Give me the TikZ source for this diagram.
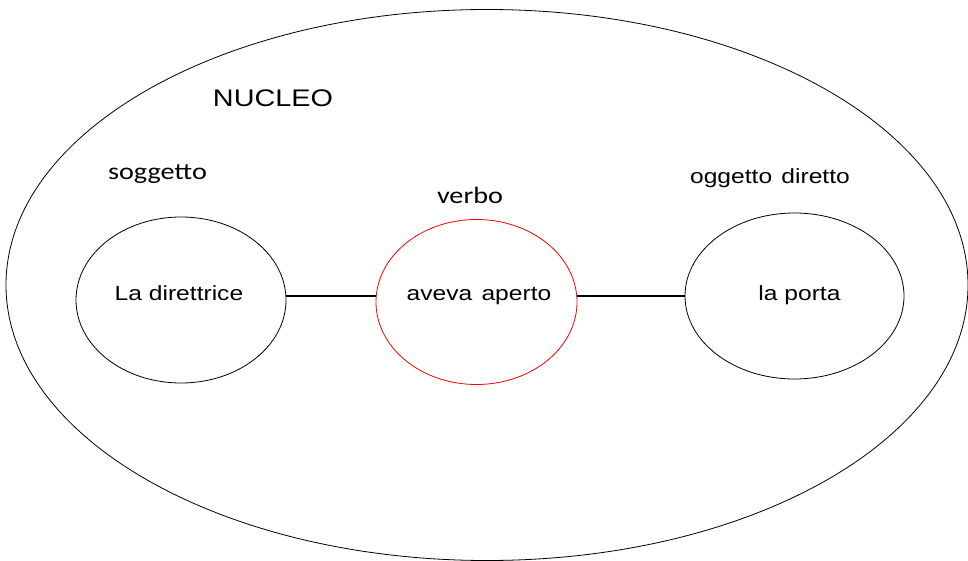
\documentclass[tikz,border=0pt]{standalone}
\usepackage{fontspec}
\setmainfont{Liberation Sans}[FakeStretch=1.2]
\newfontfamily\calib{Carlito}[FakeStretch=1.2]
\usetikzlibrary{shapes.geometric}
\tikzset{
  bubble/.style={draw=black, ellipse, line width=0.8pt, inner sep=0pt, outer sep=0pt},
  verbbubble/.style={bubble, draw=red},
  conn/.style={draw=black, line width=2.7pt},
  txt/.style={anchor=base, inner sep=0pt, font=\fontsize{20.5}{24}\selectfont},
  ctxt/.style={anchor=base, inner sep=0pt, font=\calib\fontsize{23.5}{28}\selectfont},
  bigtxt/.style={anchor=base, inner sep=0pt, font=\fontsize{24}{28}\selectfont}
}
\begin{document}
\begin{tikzpicture}[x=1pt, y=-1pt]
\useasboundingbox (0,0) rectangle (968,561);
% outer ellipse
\node[bubble, minimum width=962pt, minimum height=551pt] (nucleo) at (487,285) {};
% inner ellipses
\node[bubble, minimum width=210pt, minimum height=166pt] (s) at (181,300) {};
\node[verbbubble, minimum width=201pt, minimum height=165pt] (v) at (476.5,302) {};
\node[bubble, minimum width=219pt, minimum height=166pt] (o) at (794.5,296) {};
% connectors
\coordinate (ly) at (0,296);
\draw[conn] (s.east |- ly) -- (v.west |- ly);
\draw[conn] (v.east |- ly) -- (o.west |- ly);
% labels
\node[bigtxt] (tn) at (273,107) {NUCLEO};
\node[ctxt] (ts) at (157.5,180) {soggetto};
\node[ctxt] (tv) at (470,204) {verbo};
\node[txt] (to) at (770,184) {oggetto\hspace{0.12em} diretto};
\node[txt] (ls) at (179,300) {La direttrice};
\node[txt] (lv) at (479,300) {aveva\hspace{0.12em} aperto};
\node[txt] (lo) at (799.5,300) {la porta};
\end{tikzpicture}
\end{document}
